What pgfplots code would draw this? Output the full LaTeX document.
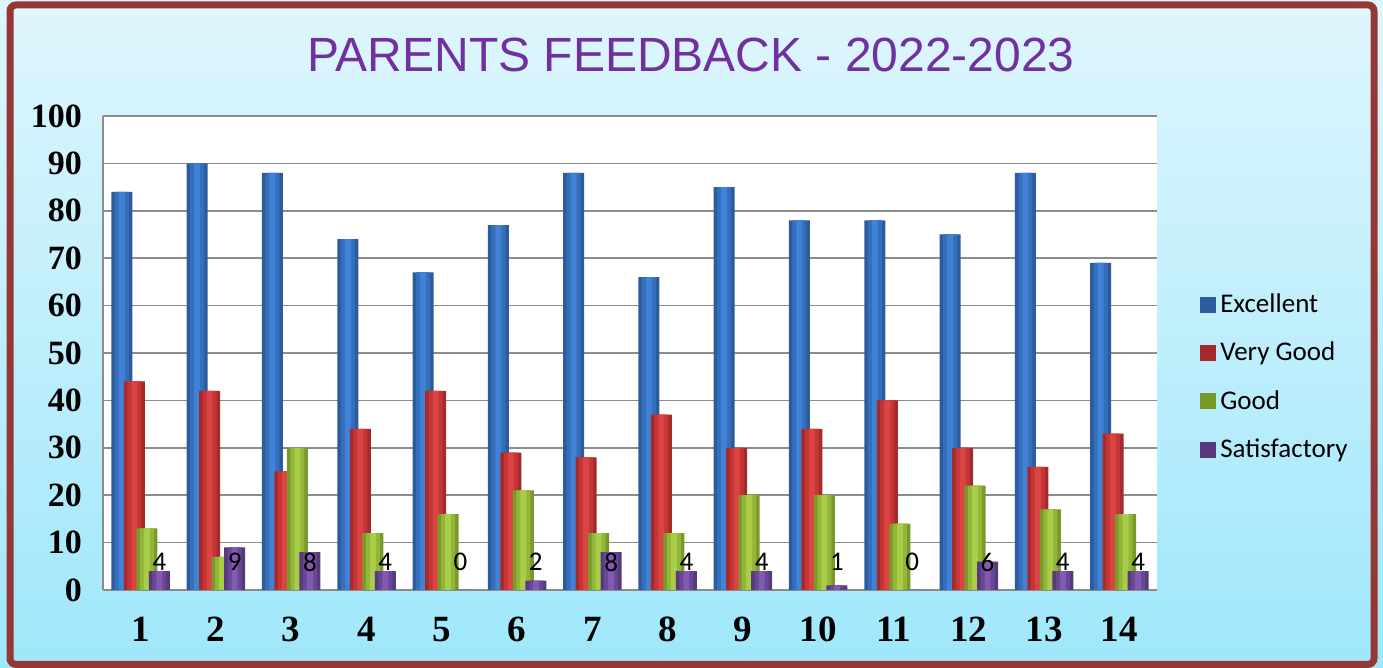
\documentclass[border=0pt]{standalone}
\usepackage{pgfplots}
\usepackage{pgfplotstable}
\pgfplotsset{compat=1.18}
\usepackage{fontspec}
\setmainfont{Carlito}
\newfontfamily\tnr{Liberation Serif}
\newfontfamily\arial{Liberation Sans}
\definecolor{bgtop}{HTML}{DFF6FD}
\definecolor{bgbot}{HTML}{9FE7FB}
\definecolor{framec}{HTML}{953735}
\definecolor{titlec}{HTML}{7030A0}
\definecolor{bluedk}{HTML}{2C5C9C}
\definecolor{bluemd}{HTML}{356EBB}
\definecolor{bluelt}{HTML}{3F82D6}
\definecolor{reddk}{HTML}{A62A2A}
\definecolor{redmd}{HTML}{C43535}
\definecolor{redlt}{HTML}{DC4444}
\definecolor{greendk}{HTML}{7A992B}
\definecolor{greenmd}{HTML}{92B63A}
\definecolor{greenlt}{HTML}{A9CD47}
\definecolor{purpdk}{HTML}{563A7B}
\definecolor{purpmd}{HTML}{6A4795}
\definecolor{purplt}{HTML}{825AB0}
\definecolor{gridc}{HTML}{8C8C8C}
\pgfplotstableread{
x exc vg good sat
1 84 44 13 4
2 90 42 7 9
3 88 25 30 8
4 74 34 12 4
5 67 42 16 0
6 77 29 21 2
7 88 28 12 8
8 66 37 12 4
9 85 30 20 4
10 78 34 20 1
11 78 40 14 0
12 75 30 22 6
13 88 26 17 4
14 69 33 16 4
}\feedback
\begin{document}
\begin{tikzpicture}
\useasboundingbox (0,0) rectangle (691.5pt,334pt);
\shade[top color=bgtop, bottom color=bgbot] (0,0) rectangle (691.5pt,334pt);
\begin{axis}[
  at={(51.5pt,39pt)}, anchor=south west,
  scale only axis, width=527pt, height=237pt,
  ybar,
  xmin=0.5, xmax=14.5, ymin=0, ymax=100,
  xtick={1,...,14}, ytick={0,10,...,100},
  axis background/.style={fill=white},
  axis lines*=left,
  axis line style={draw=gridc, line width=0.8pt, -},
  ymajorgrids, grid style={draw=gridc, line width=0.8pt},
  major tick length=0pt,
  /pgf/number format/assume math mode=true,
  yticklabel style={font=\tnr\bfseries\fontsize{17}{18}\selectfont, xshift=-7pt},
  xticklabel style={font=\tnr\bfseries\fontsize{18.5}{20}\selectfont, yshift=-10pt},
  legend style={at={(1.035,0.449)}, anchor=west, draw=none, fill=none,
    font=\fontsize{13.5}{15}\selectfont, row sep=9.3pt, legend cell align=left},
  legend image code/.code={\fill[#1] (0pt,-4pt) rectangle (8pt,4pt);},
  outer/.style={draw=none, bar width=10.5pt},
  mid/.style={draw=none, bar width=7pt, forget plot},
  inner/.style={draw=none, bar width=3pt, forget plot},
]
% Excellent
\addplot[outer, fill=bluedk, bar shift=-9.375pt] table[x=x, y=exc] {\feedback};
\addplot[mid, fill=bluemd, bar shift=-9.375pt] table[x=x, y=exc] {\feedback};
\addplot[inner, fill=bluelt, bar shift=-9.375pt] table[x=x, y=exc] {\feedback};
% Very Good
\addplot[outer, fill=reddk, bar shift=-3.125pt] table[x=x, y=vg] {\feedback};
\addplot[mid, fill=redmd, bar shift=-3.125pt] table[x=x, y=vg] {\feedback};
\addplot[inner, fill=redlt, bar shift=-3.125pt] table[x=x, y=vg] {\feedback};
% Good
\addplot[outer, fill=greendk, bar shift=3.125pt] table[x=x, y=good] {\feedback};
\addplot[mid, fill=greenmd, bar shift=3.125pt] table[x=x, y=good] {\feedback};
\addplot[inner, fill=greenlt, bar shift=3.125pt] table[x=x, y=good] {\feedback};
% Satisfactory
\addplot[outer, fill=purpdk, bar shift=9.375pt] table[x=x, y=sat] {\feedback};
\addplot[mid, fill=purpmd, bar shift=9.375pt] table[x=x, y=sat] {\feedback};
\addplot[inner, fill=purplt, bar shift=9.375pt,
  nodes near coords, visualization depends on=rawy \as \rawy,
  every node near coord/.append style={anchor=center, yshift={2.37pt*(5.9-\rawy)},
    font=\fontsize{13.5}{15}\selectfont, text=black}]
  table[x=x, y=sat] {\feedback};
\legend{Excellent, Very Good, Good, Satisfactory}
\end{axis}
\node[text=titlec, font=\arial\fontsize{24}{28}\selectfont] at (345.5pt,306.5pt) {PARENTS FEEDBACK - 2022-2023};
\draw[framec, line width=3.5pt, rounded corners=3pt] (5pt,1.8pt) rectangle (687pt,331.5pt);
\end{tikzpicture}
\end{document}
